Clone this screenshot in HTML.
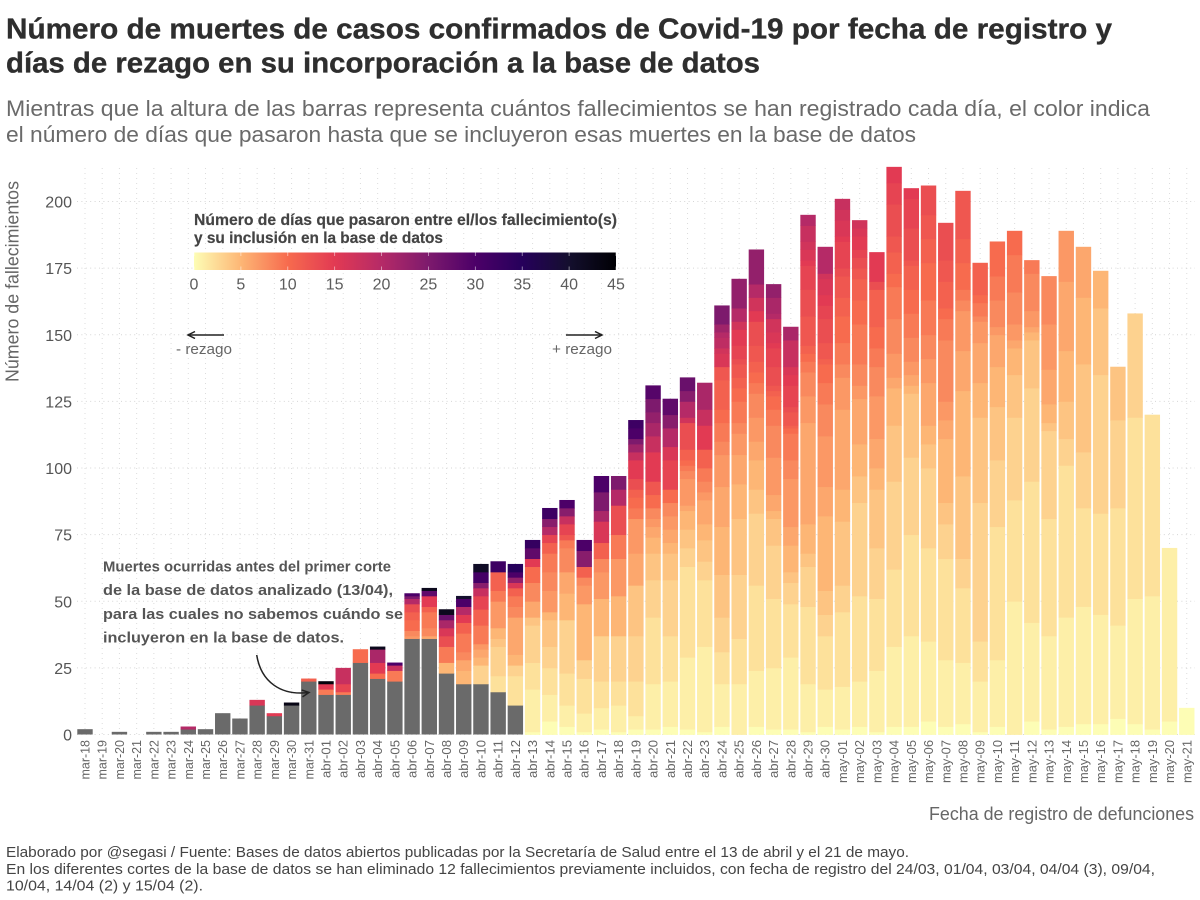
<!DOCTYPE html>
<html lang="es">
<head>
<meta charset="utf-8">
<title>Muertes por Covid-19 por fecha de registro y rezago</title>
<style>
html,body{margin:0;padding:0;background:#fff;width:1200px;height:900px;overflow:hidden}
svg{display:block;font-family:"Liberation Sans",sans-serif}
</style>
</head>
<body>
<svg id="chart" xmlns="http://www.w3.org/2000/svg" width="1200" height="900" viewBox="0 0 1200 900">
  <defs>
    <linearGradient id="lagGradient" x1="0" x2="1" y1="0" y2="0"></linearGradient>
    <marker id="arrowOpen" markerWidth="10" markerHeight="10" refX="8" refY="4" orient="auto" markerUnits="userSpaceOnUse">
      <path d="M1 0.5 L8 4 L1 7.5" fill="none" stroke="#222" stroke-width="1.5"></path>
    </marker>
  </defs>
  <rect width="1200" height="900" fill="#fff"></rect>

  <g font-weight="700" font-size="29" fill="#2e2e2e" stroke="#2e2e2e" stroke-width="0.35">
    <text x="6" y="38.5" textLength="1106" lengthAdjust="spacingAndGlyphs">Número de muertes de casos confirmados de Covid-19 por fecha de registro y</text>
    <text x="6" y="72.5" textLength="754" lengthAdjust="spacingAndGlyphs">días de rezago en su incorporación a la base de datos</text>
  </g>
  <g font-size="22" fill="#6a6a6a">
    <text x="6" y="116" textLength="1144" lengthAdjust="spacingAndGlyphs">Mientras que la altura de las barras representa cuántos fallecimientos se han registrado cada día, el color indica</text>
    <text x="6" y="142" textLength="910" lengthAdjust="spacingAndGlyphs">el número de días que pasaron hasta que se incluyeron esas muertes en la base de datos</text>
  </g>

  <g id="grid"></g>
  <g id="bars"></g>
  <g id="yAxis"></g>
  <g id="xAxis"></g>

  <text transform="translate(18.5,382) rotate(-90)" font-size="18" fill="#666" textLength="201" lengthAdjust="spacingAndGlyphs">Número de fallecimientos</text>
  <text x="929" y="820" font-size="18" fill="#666" textLength="265" lengthAdjust="spacingAndGlyphs">Fecha de registro de defunciones</text>

  <g id="legend">
    <text x="194" y="225" font-size="16" font-weight="700" fill="#444" stroke="#444" stroke-width="0.2" textLength="423" lengthAdjust="spacingAndGlyphs">Número de días que pasaron entre el/los fallecimiento(s)</text>
    <text x="194" y="243" font-size="16" font-weight="700" fill="#444" stroke="#444" stroke-width="0.2" textLength="249" lengthAdjust="spacingAndGlyphs">y su inclusión en la base de datos</text>
    <rect x="194" y="252.5" width="422" height="17.5" fill="url(#lagGradient)"></rect>
  </g>

  <g>
    <line x1="224" y1="335" x2="188" y2="335" stroke="#222" stroke-width="1.4" marker-end="url(#arrowOpen)"></line>
    <text x="176" y="354" font-size="15" fill="#666" textLength="56" lengthAdjust="spacingAndGlyphs">- rezago</text>
  </g>
  <g>
    <line x1="566" y1="335" x2="602" y2="335" stroke="#222" stroke-width="1.4" marker-end="url(#arrowOpen)"></line>
    <text x="552" y="354" font-size="15" fill="#666" textLength="60" lengthAdjust="spacingAndGlyphs">+ rezago</text>
  </g>

  <g font-size="15" font-weight="700" fill="#555">
    <text x="103" y="571.7" textLength="288" lengthAdjust="spacingAndGlyphs">Muertes ocurridas antes del primer corte</text>
    <text x="103" y="595.2" textLength="290" lengthAdjust="spacingAndGlyphs">de la base de datos analizado (13/04),</text>
    <text x="103" y="618.8" textLength="300" lengthAdjust="spacingAndGlyphs">para las cuales no sabemos cuándo se</text>
    <text x="103" y="642.3" textLength="241" lengthAdjust="spacingAndGlyphs">incluyeron en la base de datos.</text>
    <path d="M256.7 655 C261 682 281 696 309 692.5" fill="none" stroke="#222" stroke-width="1.5" marker-end="url(#arrowOpen)"></path>
  </g>

  <g font-size="15" fill="#444">
    <text x="6" y="857" textLength="903" lengthAdjust="spacingAndGlyphs">Elaborado por @segasi / Fuente: Bases de datos abiertos publicadas por la Secretaría de Salud entre el 13 de abril y el 21 de mayo.</text>
    <text x="6" y="874" textLength="1149" lengthAdjust="spacingAndGlyphs">En los diferentes cortes de la base de datos se han eliminado 12 fallecimientos previamente incluidos, con fecha de registro del 24/03, 01/04, 03/04, 04/04 (3), 09/04,</text>
    <text x="6" y="890.7" textLength="197" lengthAdjust="spacingAndGlyphs">10/04, 14/04 (2) y 15/04 (2).</text>
  </g>
</svg>

<script>
const dates = ["mar-18","mar-19","mar-20","mar-21","mar-22","mar-23","mar-24","mar-25","mar-26","mar-27","mar-28","mar-29","mar-30","mar-31",
"abr-01","abr-02","abr-03","abr-04","abr-05","abr-06","abr-07","abr-08","abr-09","abr-10","abr-11","abr-12","abr-13","abr-14","abr-15","abr-16","abr-17","abr-18","abr-19","abr-20","abr-21","abr-22","abr-23","abr-24","abr-25","abr-26","abr-27","abr-28","abr-29","abr-30",
"may-01","may-02","may-03","may-04","may-05","may-06","may-07","may-08","may-09","may-10","may-11","may-12","may-13","may-14","may-15","may-16","may-17","may-18","may-19","may-20","may-21"];

/* deaths that happened before the first data cut (gray part of each bar) */
const preCutDeaths = [2,0,1,0,1,1,2,2,8,6,11,7,11,20,15,15,27,21,20,36,36,23,19,19,16,11,
0,0,0,0,0,0,0,0,0,0,0,0,0,0,0,0,0,0,0,0,0,0,0,0,0,0,0,0,0,0,0,0,0,0,0,0,0,0,0];

/* for each date, [days of lag, deaths] from bottom to top of the bar */
const lagDeaths = [
[],[],[],[],[],[],
[[20,1]],
[],[],[],
[[16,2]],
[[15,1]],
[[43,1]],
[[11,1]],
[[9,2],[15,2],[44,1]],
[[9,1],[14,3],[18,6]],
[[10,5]],
[[10,2],[15,4],[21,5],[42,1]],
[[9,4],[18,2],[30,1]],
[[7,1],[8,2],[10,4],[11,3],[13,3],[20,2],[25,1],[30,1]],
[[6,1],[8,3],[9,6],[11,2],[15,4],[28,2],[42,1]],
[[5,4],[9,6],[13,4],[16,3],[21,3],[27,2],[42,2]],
[[5,5],[6,4],[8,3],[9,7],[11,4],[15,3],[20,3],[30,3],[40,1]],
[[3,7],[5,3],[6,3],[7,2],[9,7],[11,6],[14,5],[18,3],[24,2],[31,4],[41,3]],
[[2,6],[3,11],[4,3],[5,4],[7,10],[9,4],[11,7],[32,4]],
[[2,11],[3,4],[5,4],[6,14],[8,4],[9,4],[11,3],[16,2],[23,2],[30,2],[35,3]],
[[0,1],[1,16],[2,10],[3,14],[4,3],[6,6],[8,7],[10,6],[15,3],[28,4],[33,3]],
[[0,5],[1,10],[2,10],[3,8],[4,10],[5,3],[7,8],[8,7],[9,7],[11,4],[14,3],[20,3],[24,3],[32,4]],
[[0,3],[1,8],[2,12],[3,20],[5,10],[6,8],[8,9],[9,3],[12,2],[14,4],[18,3],[24,3],[30,3]],
[[0,1],[1,7],[2,13],[3,7],[5,21],[7,7],[8,3],[11,4],[24,6],[30,4]],
[[0,2],[1,8],[2,10],[3,17],[5,14],[7,10],[8,5],[11,6],[16,8],[21,4],[25,7],[30,6]],
[[0,1],[1,10],[2,9],[3,17],[5,15],[7,14],[9,9],[13,11],[20,6],[25,5]],
[[0,2],[1,5],[2,13],[3,17],[4,19],[6,12],[7,13],[9,4],[10,4],[11,3],[13,4],[15,7],[18,3],[22,3],[25,2],[30,4],[32,3]],
[[0,2],[1,17],[2,25],[3,14],[4,10],[5,6],[6,4],[7,3],[8,4],[10,5],[12,5],[15,11],[18,6],[21,5],[23,4],[25,5],[29,5]],
[[0,3],[1,17],[2,17],[3,21],[4,10],[5,4],[6,5],[7,5],[8,5],[10,5],[14,11],[16,5],[20,7],[24,5],[28,6]],
[[0,2],[1,27],[2,34],[3,7],[4,7],[5,7],[6,2],[7,10],[8,3],[9,2],[10,2],[11,4],[13,10],[17,2],[20,6],[24,4],[27,5]],
[[0,1],[1,32],[2,25],[3,7],[4,8],[5,6],[6,9],[7,3],[8,4],[9,5],[11,7],[15,9],[18,6],[21,10]],
[[0,3],[1,16],[2,12],[3,13],[4,16],[5,18],[6,15],[7,12],[8,5],[9,7],[10,5],[11,11],[12,5],[16,5],[17,2],[19,4],[20,2],[22,3],[25,7]],
[[1,19],[2,17],[3,24],[4,21],[5,13],[6,11],[7,8],[8,4],[9,8],[10,5],[11,4],[12,5],[13,2],[14,5],[15,6],[17,3],[20,5],[23,11]],
[[0,3],[1,21],[2,32],[3,27],[4,9],[5,11],[6,7],[7,9],[8,9],[9,4],[10,4],[11,4],[12,6],[13,9],[15,4],[17,5],[20,5],[23,13]],
[[0,2],[1,23],[2,26],[3,20],[4,10],[5,3],[6,6],[7,14],[8,12],[9,6],[10,5],[11,2],[12,2],[13,7],[14,7],[15,2],[16,4],[17,5],[20,2],[21,6],[23,5]],
[[0,2],[1,27],[2,20],[3,8],[4,4],[5,10],[6,7],[7,18],[8,7],[9,10],[10,2],[11,1],[12,5],[13,2],[14,8],[15,4],[16,3],[18,10],[21,5]],
[[0,1],[1,18],[2,29],[3,15],[4,5],[5,11],[6,38],[7,10],[8,9],[9,4],[10,3],[11,3],[12,11],[13,10],[14,9],[15,2],[16,4],[17,3],[18,6],[20,4]],
[[0,3],[1,14],[2,20],[3,8],[4,9],[5,28],[6,11],[7,19],[8,12],[9,8],[10,7],[11,2],[12,6],[13,9],[14,5],[15,4],[16,6],[17,2],[20,10]],
[[0,2],[1,16],[2,28],[3,10],[4,24],[5,12],[6,30],[7,12],[8,5],[9,8],[10,10],[11,7],[12,8],[13,3],[14,10],[15,2],[16,6],[17,4],[18,4]],
[[0,3],[1,17],[2,32],[3,35],[4,10],[5,12],[6,17],[7,5],[8,8],[9,15],[10,9],[11,8],[12,4],[13,4],[14,3],[15,5],[16,3],[17,3]],
[[0,1],[1,23],[2,27],[3,19],[4,22],[5,8],[6,11],[7,16],[8,11],[9,7],[10,8],[11,14],[13,3],[15,11]],
[[0,3],[1,30],[2,29],[3,33],[4,21],[5,14],[6,4],[7,9],[8,13],[9,12],[10,5],[11,8],[12,6],[13,12],[14,8],[15,6]],
[[0,3],[1,34],[2,38],[3,29],[4,24],[5,3],[6,4],[7,5],[8,9],[9,9],[10,9],[11,9],[12,2],[13,12],[14,11],[15,4]],
[[0,5],[1,30],[2,35],[3,30],[4,9],[5,7],[6,16],[7,9],[8,9],[9,13],[10,14],[11,9],[12,9],[13,11]],
[[0,3],[1,25],[2,38],[3,13],[4,8],[5,24],[6,7],[7,7],[8,23],[9,8],[10,4],[11,10],[12,8],[13,14]],
[[0,4],[1,23],[2,28],[3,11],[4,31],[5,32],[6,15],[7,15],[8,4],[9,4],[10,10],[11,9],[12,18]],
[[0,1],[1,19],[2,15],[3,52],[4,32],[5,13],[6,15],[7,8],[8,2],[9,5],[10,3],[11,12]],
[[0,3],[1,25],[2,50],[3,25],[4,20],[5,15],[6,12],[7,3],[8,10],[9,9],[10,13]],
[[1,50],[2,38],[3,31],[4,16],[5,10],[6,3],[7,6],[8,12],[9,14],[10,9]],
[[0,5],[1,37],[2,53],[3,35],[4,18],[5,3],[6,2],[7,6],[8,14],[9,5]],
[[0,2],[1,35],[2,44],[3,33],[4,3],[5,7],[6,13],[7,17],[8,18]],
[[0,3],[1,41],[2,57],[3,10],[4,14],[5,19],[6,26],[7,19]],
[[0,4],[1,44],[2,37],[3,21],[4,33],[5,25],[6,19]],
[[0,4],[1,41],[2,38],[3,52],[4,25],[5,14]],
[[0,6],[1,35],[2,44],[3,33],[4,20]],
[[0,4],[1,47],[2,68],[3,39]],
[[0,2],[1,50],[2,68]],
[[0,5],[1,65]],
[[0,10]]
];

const yTicks = [0,25,50,75,100,125,150,175,200];
const legendTicks = [0,5,10,15,20,25,30,35,40,45];
const rampLags = [0,5,10,15,20,25,30,35,40,45];
const rampColors = ["#fdfdb5","#fdb675","#f76b4e","#e23a53","#b52a67","#7d1a6d","#4c0068","#26005b","#140f2e","#000004"];

const NS = "http://www.w3.org/2000/svg";
function xScale(i){ return 85 + 17.215 * i; }
function yScale(v){ return 734.5 - 2.665 * v; }
function legendX(lag){ return 194 + lag * (616 - 194) / 45; }
const BAR_WIDTH = 15.4;

function hexToRgb(h){ return [parseInt(h.slice(1,3),16),parseInt(h.slice(3,5),16),parseInt(h.slice(5,7),16)]; }
function lagColor(lag){
  const k = Math.max(0, Math.min(rampLags.length - 2, Math.floor(lag / 5)));
  const t = (lag - rampLags[k]) / (rampLags[k+1] - rampLags[k]);
  const a = hexToRgb(rampColors[k]);
  const b = hexToRgb(rampColors[k+1]);
  return "rgb(" + a.map((c,j) => Math.round(c + (b[j]-c)*t)).join(",") + ")";
}
function make(tag, attrs, parent){
  const el = document.createElementNS(NS, tag);
  for (const k in attrs) el.setAttribute(k, attrs[k]);
  parent.appendChild(el);
  return el;
}
function tickLabelLength(d){
  if (d.indexOf("may") === 0) return 43;
  if (d.indexOf("abr") === 0) return 38;
  return 39.5;
}

/* gridlines */
const grid = document.getElementById("grid");
dates.forEach(function(d,i){
  const vLine = make("line",{x1:xScale(i),x2:xScale(i),y1:168,y2:734,stroke:"#dcdcdc","stroke-width":1,"stroke-dasharray":"1 4"},grid);
  
  
});
yTicks.forEach(function(v){
  const hLine = make("line",{x1:77,x2:1195,y1:yScale(v),y2:yScale(v),stroke:"#d6d6d6","stroke-width":1,"stroke-dasharray":"1 3.4"},grid);
  
  
});

/* bars */
const barsG = document.getElementById("bars");
dates.forEach(function(d,i){
  const x = xScale(i) - BAR_WIDTH/2;
  let cum = 0;
  if (preCutDeaths[i] > 0){
    cum = preCutDeaths[i];
    const gray = make("rect",{x:x,y:yScale(cum),width:BAR_WIDTH,height:yScale(0)-yScale(cum),fill:"#6a6a6a"},barsG);
    
    
  }
  lagDeaths[i].forEach(function(seg){
    const lag = seg[0], n = seg[1];
    const top = cum + n;
    const rect = make("rect",{x:x,y:yScale(top),width:BAR_WIDTH,height:yScale(cum)-yScale(top)+0.4,fill:lagColor(lag)},barsG);
    
    
    cum = top;
  });
});

/* y axis */
const yAxis = document.getElementById("yAxis");
yTicks.forEach(function(v){
  const t = make("text",{x:72,y:yScale(v)+6,"text-anchor":"end","font-size":16,fill:"#555"},yAxis);
  t.textContent = v;
  
  
});

/* x axis */
const xAxis = document.getElementById("xAxis");
dates.forEach(function(d,i){
  const len = tickLabelLength(d);
  const t = make("text",{transform:"translate("+(xScale(i)+4.5)+","+(740+len)+") rotate(-90)","font-size":13,fill:"#666",textLength:len,lengthAdjust:"spacingAndGlyphs"},xAxis);
  t.textContent = d;
  
  
});

/* legend */
const gradient = document.getElementById("lagGradient");
rampLags.forEach(function(l,k){
  make("stop",{offset:(l/45*100)+"%","stop-color":rampColors[k]},gradient);
});
const legend = document.getElementById("legend");
legendTicks.forEach(function(l){
  const x = legendX(l);
  const tickTop = make("line",{x1:x,x2:x,y1:252.5,y2:256,stroke:"#fff","stroke-opacity":0.6,"stroke-width":0.8},legend);
  
  
  const tickBottom = make("line",{x1:x,x2:x,y1:266.5,y2:270,stroke:"#fff","stroke-opacity":0.6,"stroke-width":0.8},legend);
  
  
  const label = make("text",{x:x,y:289.5,"text-anchor":"middle","font-size":16,fill:"#5c5c5c"},legend);
  label.textContent = l;
  
  
});
</script>
</body>
</html>
